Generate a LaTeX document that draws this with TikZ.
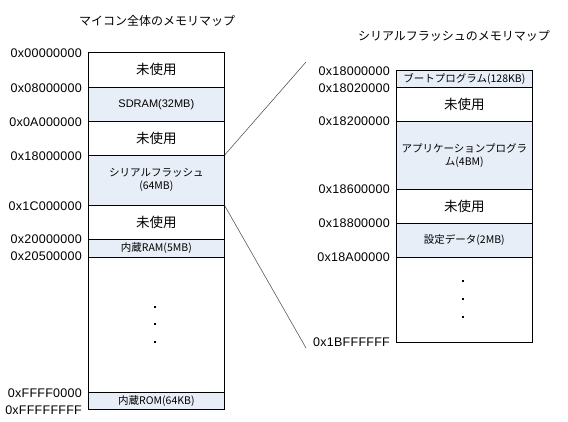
\documentclass[tikz,border=0pt]{standalone}
\usepackage{fontspec}
\setmainfont{Liberation Sans}
\newfontfamily\jp{Noto Sans CJK JP}
\newfontfamily\hexfont[LetterSpace=2]{Liberation Sans}
\begin{document}
\begin{tikzpicture}[x=1pt,y=-1pt,
  cell/.style={draw=black,line width=0.7pt,minimum width=136pt,inner sep=0pt,anchor=north west,align=center,font=\jp\fontsize{10.5}{13}\selectfont},
  used/.style={fill=memblue},
  unused/.style={font=\jp\fontsize{13.5}{15}\selectfont},
  addr/.style={anchor=east,inner sep=0pt,font=\hexfont\fontsize{12.5}{13}\selectfont},
  ttl/.style={inner sep=0pt,font=\jp\fontsize{12}{14}\selectfont},
  dotmark/.style={fill=black,inner sep=0pt,minimum size=2pt},
  zoomline/.style={draw=black!75,line width=0.5pt}]
\definecolor{memblue}{RGB}{232,238,247}
\useasboundingbox (0,0) rectangle (568,422);
% titles
\node[ttl] (t1) at (157,21) {マイコン全体のメモリマップ};
\node[ttl] (t2) at (454,36) {シリアルフラッシュのメモリマップ};
% left map
\node[cell,unused,minimum height=35pt] (c1) at (88,52) {未使用};
\node[cell,used,minimum height=34pt] (c2) at (88,87) {\fontspec{Liberation Sans}\fontsize{11}{13}\selectfont SDRAM(32MB)};
\node[cell,unused,minimum height=34pt] (c3) at (88,121) {未使用};
\node[cell,used,minimum height=50pt] (c4) at (88,155) {シリアルフラッシュ\\(64MB)};
\node[cell,unused,minimum height=34pt] (c5) at (88,205) {未使用};
\node[cell,used,minimum height=18pt] (c6) at (88,239) {内蔵RAM(5MB)};
\node[cell,minimum height=135pt] (c7) at (88,257) {};
\node[cell,used,minimum height=17pt] (c8) at (88,392) {内蔵ROM(64KB)};
\node[dotmark] (d1) at (155,307) {};
\node[dotmark] (d2) at (155,324) {};
\node[dotmark] (d3) at (155,342) {};
% left addresses
\node[addr] (a1) at (82,53) {0x00000000};
\node[addr] (a2) at (82,88) {0x08000000};
\node[addr] (a3) at (82,122) {0x0A000000};
\node[addr] (a4) at (82,156) {0x18000000};
\node[addr] (a5) at (82,206) {0x1C000000};
\node[addr] (a6) at (82,239) {0x20000000};
\node[addr] (a7) at (82,256) {0x20500000};
\node[addr] (a8) at (82,393) {0xFFFF0000};
\node[addr] (a9) at (82,410) {0xFFFFFFFF};
% right map
\node[cell,used,minimum height=17pt] (r1) at (396,70) {ブートプログラム(128KB)};
\node[cell,unused,minimum height=34pt] (r2) at (396,87) {未使用};
\node[cell,used,minimum height=68pt] (r3) at (396,121) {アプリケーションプログラ\\ム(4BM)};
\node[cell,unused,minimum height=34pt] (r4) at (396,189) {未使用};
\node[cell,used,minimum height=34pt] (r5) at (396,223) {設定データ(2MB)};
\node[cell,minimum height=85pt] (r6) at (396,257) {};
\node[dotmark] (e1) at (463,281) {};
\node[dotmark] (e2) at (463,299) {};
\node[dotmark] (e3) at (463,317) {};
% right addresses
\node[addr] (b1) at (390,71) {0x18000000};
\node[addr] (b2) at (390,88) {0x18020000};
\node[addr] (b3) at (390,121) {0x18200000};
\node[addr] (b4) at (390,189) {0x18600000};
\node[addr] (b5) at (390,223) {0x18800000};
\node[addr] (b6) at (390,257) {0x18A00000};
\node[addr] (b7) at (390,342) {0x1BFFFFFF};
% zoom connectors
\coordinate (z1) at (306,62);
\coordinate (z2) at (306,348);
\draw[zoomline] (c4.north east) -- (z1);
\draw[zoomline] (c4.south east) -- (z2);
\end{tikzpicture}
\end{document}
